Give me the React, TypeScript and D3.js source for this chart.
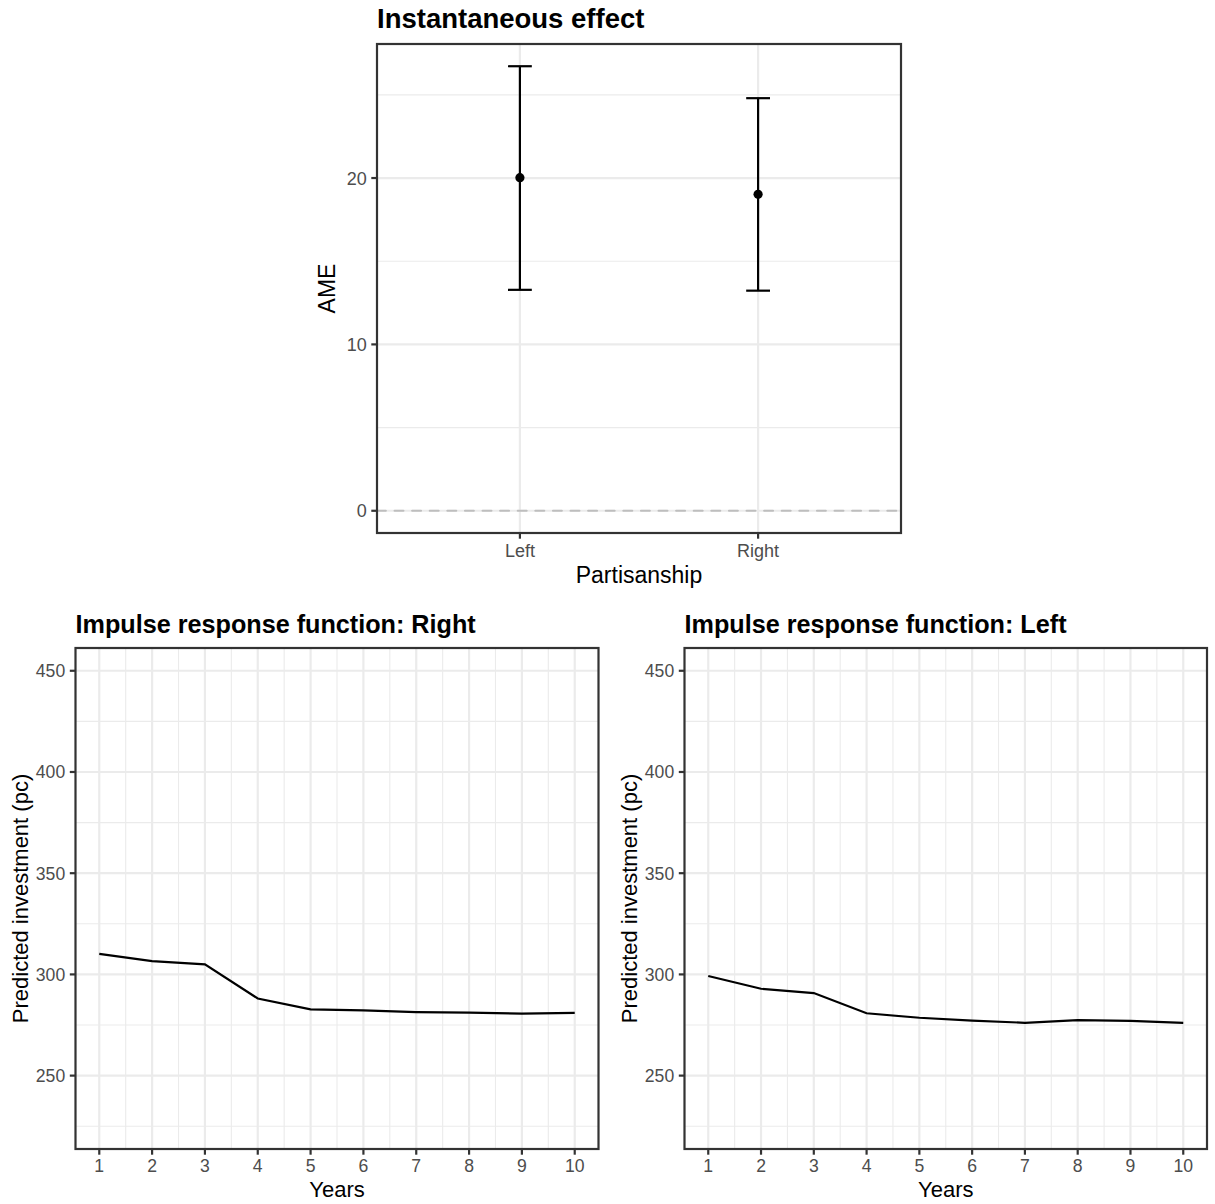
import React from 'react';
import * as d3 from 'd3';

const width = 1215;
const height = 1204;
const font = '"Liberation Sans", Arial, Helvetica, sans-serif';

// top panel: average marginal effect by partisanship
const parties = ['Left', 'Right'];
const ameEstimate = [20.02, 19.02];
const ameLower = [13.28, 13.23];
const ameUpper = [26.72, 24.8];
const ameTicks = [0, 10, 20];
const ameMinor = [5, 15, 25];

// bottom panels: impulse response functions
const years = [1, 2, 3, 4, 5, 6, 7, 8, 9, 10];
const yearMinor = [1.5, 2.5, 3.5, 4.5, 5.5, 6.5, 7.5, 8.5, 9.5];
const irfRight = [310.1, 306.6, 305.0, 288.1, 282.7, 282.2, 281.4, 281.1, 280.6, 281.0];
const irfLeft = [299.2, 292.9, 290.8, 280.8, 278.6, 277.2, 276.1, 277.4, 277.0, 276.1];
const irfTicks = [250, 300, 350, 400, 450];
const irfMinor = [225, 275, 325, 375, 425];
const irfLimits = [225, 450];

const grid = '#ebebeb';
const border = '#333333';
const tickText = '#4d4d4d';
const lw = 2.2;

function AmePanel() {
  const p = { x0: 377, x1: 901, y0: 44, y1: 533 };
  const x = d3.scalePoint().domain(parties).range([p.x0, p.x1]).padding(0.6);
  const lo = Math.min(0, d3.min(ameLower));
  const hi = d3.max(ameUpper);
  const pad = (hi - lo) * 0.05;
  const y = d3.scaleLinear().domain([lo - pad, hi + pad]).range([p.y1, p.y0]);
  const capHalf = x.step() * 0.05;

  return (
    <g>
      <rect x={p.x0} y={p.y0} width={p.x1 - p.x0} height={p.y1 - p.y0} fill="white" />
      {ameMinor.map(v => (
        <line key={'m' + v} x1={p.x0} x2={p.x1} y1={y(v)} y2={y(v)} stroke={grid} strokeWidth={lw / 2} />
      ))}
      {ameTicks.map(v => (
        <line key={'g' + v} x1={p.x0} x2={p.x1} y1={y(v)} y2={y(v)} stroke={grid} strokeWidth={lw} />
      ))}
      {parties.map(c => (
        <line key={'gx' + c} x1={x(c)} x2={x(c)} y1={p.y0} y2={p.y1} stroke={grid} strokeWidth={lw} />
      ))}
      <line x1={p.x0} x2={p.x1} y1={y(0)} y2={y(0)} stroke="#bebebe" strokeWidth={lw}
        strokeDasharray="8.8 8.8" strokeLinecap="round" />
      {parties.map((c, i) => (
        <g key={c}>
          <line x1={x(c)} x2={x(c)} y1={y(ameLower[i])} y2={y(ameUpper[i])} stroke="black" strokeWidth={lw} />
          <line x1={x(c) - capHalf} x2={x(c) + capHalf} y1={y(ameLower[i])} y2={y(ameLower[i])} stroke="black" strokeWidth={lw} />
          <line x1={x(c) - capHalf} x2={x(c) + capHalf} y1={y(ameUpper[i])} y2={y(ameUpper[i])} stroke="black" strokeWidth={lw} />
          <circle cx={x(c)} cy={y(ameEstimate[i])} r={4.6} fill="black" />
        </g>
      ))}
      <rect x={p.x0} y={p.y0} width={p.x1 - p.x0} height={p.y1 - p.y0} fill="none" stroke={border} strokeWidth={lw} />
      {ameTicks.map(v => (
        <g key={'t' + v}>
          <line x1={p.x0 - 5.7} x2={p.x0} y1={y(v)} y2={y(v)} stroke={border} strokeWidth={lw} />
          <text x={p.x0 - 10.3} y={y(v)} dy="0.36em" textAnchor="end" fontSize={18} fill={tickText}>{v}</text>
        </g>
      ))}
      {parties.map(c => (
        <g key={'tx' + c}>
          <line x1={x(c)} x2={x(c)} y1={p.y1} y2={p.y1 + 5.7} stroke={border} strokeWidth={lw} />
          <text x={x(c)} y={p.y1 + 24} textAnchor="middle" fontSize={18} fill={tickText}>{c}</text>
        </g>
      ))}
      <text x={(p.x0 + p.x1) / 2} y={p.y1 + 50} textAnchor="middle" fontSize={23} fill="black">Partisanship</text>
      <text transform={`translate(${p.x0 - 42},${(p.y0 + p.y1) / 2}) rotate(-90)`} textAnchor="middle" fontSize={23} fill="black">AME</text>
      <text x={p.x0} y={p.y0 - 16} fontSize={27.5} fontWeight="bold" fill="black">Instantaneous effect</text>
    </g>
  );
}

function IrfPanel({ p, values, title }) {
  const x = d3.scaleLinear().domain([1 - 0.45, 10 + 0.45]).range([p.x0, p.x1]);
  const pad = (irfLimits[1] - irfLimits[0]) * 0.05;
  const y = d3.scaleLinear().domain([irfLimits[0] - pad, irfLimits[1] + pad]).range([p.y1, p.y0]);
  const line = d3.line().x((d, i) => x(years[i])).y(d => y(d));

  return (
    <g>
      <rect x={p.x0} y={p.y0} width={p.x1 - p.x0} height={p.y1 - p.y0} fill="white" />
      {irfMinor.map(v => (
        <line key={'m' + v} x1={p.x0} x2={p.x1} y1={y(v)} y2={y(v)} stroke={grid} strokeWidth={lw / 2} />
      ))}
      {yearMinor.map(v => (
        <line key={'mx' + v} x1={x(v)} x2={x(v)} y1={p.y0} y2={p.y1} stroke={grid} strokeWidth={lw / 2} />
      ))}
      {irfTicks.map(v => (
        <line key={'g' + v} x1={p.x0} x2={p.x1} y1={y(v)} y2={y(v)} stroke={grid} strokeWidth={lw} />
      ))}
      {years.map(v => (
        <line key={'gx' + v} x1={x(v)} x2={x(v)} y1={p.y0} y2={p.y1} stroke={grid} strokeWidth={lw} />
      ))}
      <path d={line(values)} fill="none" stroke="black" strokeWidth={lw} />
      <rect x={p.x0} y={p.y0} width={p.x1 - p.x0} height={p.y1 - p.y0} fill="none" stroke={border} strokeWidth={lw} />
      {irfTicks.map(v => (
        <g key={'t' + v}>
          <line x1={p.x0 - 5.7} x2={p.x0} y1={y(v)} y2={y(v)} stroke={border} strokeWidth={lw} />
          <text x={p.x0 - 10.3} y={y(v)} dy="0.36em" textAnchor="end" fontSize={17.6} fill={tickText}>{v}</text>
        </g>
      ))}
      {years.map(v => (
        <g key={'tx' + v}>
          <line x1={x(v)} x2={x(v)} y1={p.y1} y2={p.y1 + 5.7} stroke={border} strokeWidth={lw} />
          <text x={x(v)} y={p.y1 + 23} textAnchor="middle" fontSize={17.6} fill={tickText}>{v}</text>
        </g>
      ))}
      <text x={(p.x0 + p.x1) / 2} y={p.y1 + 48} textAnchor="middle" fontSize={22} fill="black">Years</text>
      <text transform={`translate(${p.x0 - 48},${(p.y0 + p.y1) / 2}) rotate(-90)`} textAnchor="middle" fontSize={22} fill="black">Predicted investment (pc)</text>
      <text x={p.x0} y={p.y0 - 15} fontSize={25.2} fontWeight="bold" fill="black">{title}</text>
    </g>
  );
}

export default function App() {
  return (
    <svg width={width} height={height} style={{ position: 'absolute', left: 0, top: 0, background: 'white' }}
      fontFamily={font}>
      <rect width={width} height={height} fill="white" />
      <AmePanel />
      <IrfPanel p={{ x0: 75.5, x1: 598.5, y0: 648, y1: 1149 }} values={irfRight} title="Impulse response function: Right" />
      <IrfPanel p={{ x0: 684.5, x1: 1207, y0: 648, y1: 1149 }} values={irfLeft} title="Impulse response function: Left" />
    </svg>
  );
}
